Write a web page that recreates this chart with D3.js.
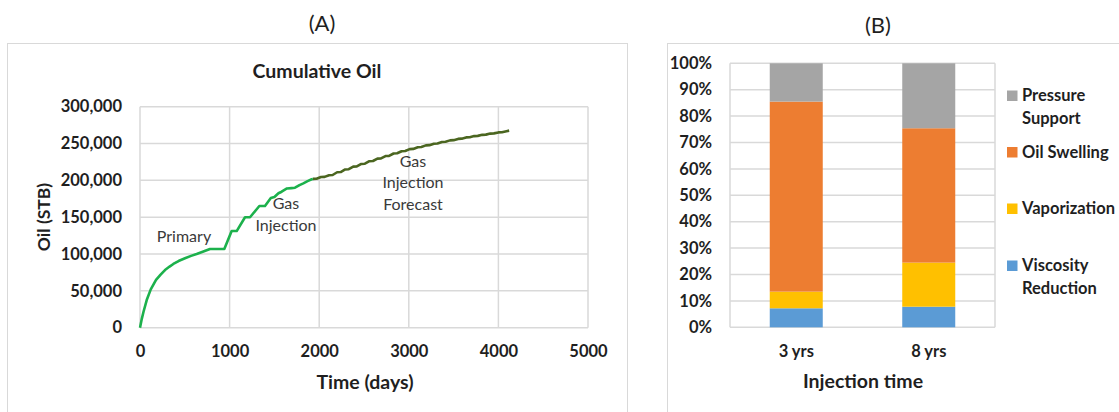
<!DOCTYPE html>
<html>
<head>
<meta charset="utf-8">
<script src="https://cdn.jsdelivr.net/npm/d3@7"></script>
<style>
  html, body { margin: 0; padding: 0; background: #fff; }
  svg { display: block; font-family: Lato, "Open Sans", sans-serif; }
</style>
</head>
<body>
<svg id="fig" width="1119" height="412"></svg>
<script>
// ---- Panel A: cumulative oil production (days, STB) ----
const primaryAndInjection = [
  [0, 0], [20, 12000], [40, 22000], [75, 37500], [120, 52000], [179, 64800],
  [230, 72000], [279, 78300], [330, 83000], [372, 86500], [430, 90500],
  [502, 94200], [570, 97500], [632, 100000], [700, 103000], [781, 106800],
  [941, 106800], [1023, 131200], [1079, 131200], [1172, 149900], [1228, 149900],
  [1332, 165200], [1395, 165200], [1460, 176000], [1500, 177500], [1545, 182500],
  [1581, 184600], [1640, 189000], [1690, 189500], [1730, 190000], [1780, 193500],
  [1823, 196000], [1870, 199000], [1916, 201500], [1930, 202000]
];
const injectionForecast = [
  [1930, 202000], [1970, 202200], [2020, 204500], [2060, 204700], [2110, 207000],
  [2150, 207300], [2200, 211000], [2240, 211300], [2290, 214800], [2330, 215100],
  [2380, 218600], [2420, 218900], [2470, 222300], [2510, 222600], [2560, 226000],
  [2600, 226300], [2650, 229500], [2690, 229800], [2740, 233000], [2780, 233300],
  [2830, 236500], [2870, 236800], [2920, 239600], [2960, 239900], [3010, 242400],
  [3050, 242700], [3100, 245000], [3140, 245300], [3190, 247500], [3230, 247800],
  [3280, 249800], [3320, 250100], [3370, 252100], [3410, 252400], [3460, 254300],
  [3500, 254600], [3550, 256300], [3590, 256600], [3640, 258300], [3680, 258600],
  [3730, 260100], [3770, 260400], [3820, 261800], [3860, 262100], [3910, 263500],
  [3950, 263800], [4000, 265100], [4040, 265400], [4090, 266800], [4120, 267500]
];
const timeTicks = [0, 1000, 2000, 3000, 4000, 5000];
const oilTicks = [0, 50000, 100000, 150000, 200000, 250000, 300000];

// ---- Panel B: recovery mechanism shares (%) ----
const categories = ["3 yrs", "8 yrs"];
const viscosityReduction = [7.2, 7.8];
const vaporization = [6.3, 16.7];
const oilSwelling = [72.0, 50.9];
const pressureSupport = [14.5, 24.6];
const percentTicks = [0, 10, 20, 30, 40, 50, 60, 70, 80, 90, 100];

const svg = d3.select("#fig");
svg.append("rect").attr("width", 1119).attr("height", 412).attr("fill", "#fff");

const gridColor = "#d9d9d9";
const labelColor = "#1f1f1f";
const noteColor = "#3a3a3a";

// panel frames
svg.append("rect").attr("x", 7.5).attr("y", 43.5).attr("width", 620).attr("height", 420)
  .attr("fill", "none").attr("stroke", gridColor);
svg.append("rect").attr("x", 667.5).attr("y", 43.5).attr("width", 500).attr("height", 420)
  .attr("fill", "none").attr("stroke", gridColor);

svg.append("text").attr("x", 322).attr("y", 31).attr("text-anchor", "middle")
  .attr("font-size", 22).attr("fill", labelColor).text("(A)");
svg.append("text").attr("x", 878).attr("y", 33).attr("text-anchor", "middle")
  .attr("font-size", 22).attr("fill", labelColor).text("(B)");

// ================= Panel A =================
const xA = d3.scaleLinear().domain([0, 5000]).range([140, 588]);
const yA = d3.scaleLinear().domain([0, 300000]).range([327.7, 106.7]);

const gA = svg.append("g");
gA.append("g").selectAll("line").data(timeTicks).join("line")
  .attr("x1", d => xA(d)).attr("x2", d => xA(d))
  .attr("y1", yA(0)).attr("y2", yA(300000))
  .attr("stroke", gridColor).attr("stroke-width", 1.5);
gA.append("g").selectAll("line").data(oilTicks).join("line")
  .attr("x1", xA(0)).attr("x2", xA(5000))
  .attr("y1", d => yA(d)).attr("y2", d => yA(d))
  .attr("stroke", gridColor).attr("stroke-width", 1.5);

const axA_y = gA.append("g").attr("transform", `translate(${xA(0)},0)`)
  .call(d3.axisLeft(yA).tickValues(oilTicks).tickFormat(d3.format(",")).tickSize(0).tickPadding(18));
const axA_x = gA.append("g").attr("transform", `translate(0,${yA(0)})`)
  .call(d3.axisBottom(xA).tickValues(timeTicks).tickFormat(d3.format("d")).tickSize(0).tickPadding(18));
[axA_y, axA_x].forEach(a => {
  a.select(".domain").remove();
  a.selectAll("text").attr("font-size", 16.5).attr("font-weight", 700)
    .attr("fill", labelColor).attr("font-family", "Lato, sans-serif");
});

const lineA = d3.line().x(d => xA(d[0])).y(d => yA(d[1]));
gA.append("path").datum(primaryAndInjection).attr("d", lineA)
  .attr("fill", "none").attr("stroke", "#1cb14c").attr("stroke-width", 2.6)
  .attr("stroke-linejoin", "round");
gA.append("path").datum(injectionForecast).attr("d", lineA)
  .attr("fill", "none").attr("stroke", "#4b6620").attr("stroke-width", 2.6)
  .attr("stroke-linejoin", "round");

svg.append("text").attr("x", 317).attr("y", 78).attr("text-anchor", "middle")
  .attr("font-size", 19.5).attr("font-weight", 700).attr("fill", labelColor).text("Cumulative Oil");
svg.append("text").attr("transform", "translate(50,217) rotate(-90)").attr("text-anchor", "middle")
  .attr("font-size", 17.5).attr("font-weight", 700).attr("fill", labelColor).text("Oil (STB)");
svg.append("text").attr("x", 365).attr("y", 389).attr("text-anchor", "middle")
  .attr("font-size", 19.5).attr("font-weight", 700).attr("fill", labelColor).text("Time (days)");

const notes = [
  { x: 184, y: 241.5, lines: ["Primary"] },
  { x: 286, y: 209, lines: ["Gas", "Injection"] },
  { x: 413, y: 166.5, lines: ["Gas", "Injection", "Forecast"] }
];
notes.forEach(n => {
  const t = svg.append("text").attr("text-anchor", "middle").attr("font-size", 16)
    .attr("fill", noteColor);
  n.lines.forEach((s, i) => t.append("tspan").attr("x", n.x).attr("y", n.y + i * 21.5).text(s));
});

// ================= Panel B =================
const xB = d3.scaleBand().domain(categories).range([730, 995]).paddingInner(0.6).paddingOuter(0.3);
const yB = d3.scaleLinear().domain([0, 100]).range([327.3, 63.3]);

const gB = svg.append("g");
gB.append("g").selectAll("line").data(percentTicks).join("line")
  .attr("x1", 730).attr("x2", 995)
  .attr("y1", d => yB(d)).attr("y2", d => yB(d))
  .attr("stroke", gridColor).attr("stroke-width", 1.5);
gB.append("line").attr("x1", 730).attr("x2", 730).attr("y1", yB(0)).attr("y2", yB(100))
  .attr("stroke", gridColor).attr("stroke-width", 1.5);
gB.append("line").attr("x1", 995).attr("x2", 995).attr("y1", yB(0)).attr("y2", yB(100))
  .attr("stroke", gridColor).attr("stroke-width", 1.5);

const mechanisms = [
  { key: "Viscosity Reduction", values: viscosityReduction, color: "#5b9bd5", label: ["Viscosity", "Reduction"] },
  { key: "Vaporization", values: vaporization, color: "#ffc000", label: ["Vaporization"] },
  { key: "Oil Swelling", values: oilSwelling, color: "#ed7d31", label: ["Oil Swelling"] },
  { key: "Pressure Support", values: pressureSupport, color: "#a5a5a5", label: ["Pressure", "Support"] }
];
const rows = categories.map((c, i) => {
  const r = { category: c };
  mechanisms.forEach(m => { r[m.key] = m.values[i]; });
  return r;
});
const stacked = d3.stack().keys(mechanisms.map(m => m.key))(rows);

gB.append("g").selectAll("g").data(stacked).join("g")
  .attr("fill", (d, i) => mechanisms[i].color)
  .selectAll("rect").data(d => d).join("rect")
  .attr("x", d => xB(d.data.category))
  .attr("width", xB.bandwidth())
  .attr("y", d => yB(d[1]))
  .attr("height", d => yB(d[0]) - yB(d[1]));

const axB_y = gB.append("g").attr("transform", "translate(730,0)")
  .call(d3.axisLeft(yB).tickValues(percentTicks).tickFormat(d => d + "%").tickSize(0).tickPadding(18));
const axB_x = gB.append("g").attr("transform", `translate(0,${yB(0)})`)
  .call(d3.axisBottom(xB).tickSize(0).tickPadding(18));
[axB_y, axB_x].forEach(a => {
  a.select(".domain").remove();
  a.selectAll("text").attr("font-size", 16.5).attr("font-weight", 700)
    .attr("fill", labelColor).attr("font-family", "Lato, sans-serif");
});

svg.append("text").attr("x", 863).attr("y", 388).attr("text-anchor", "middle")
  .attr("font-size", 19.5).attr("font-weight", 700).attr("fill", labelColor).text("Injection time");

// legend, top entry first
const legendRows = [
  { m: mechanisms[3], y: 101 },
  { m: mechanisms[2], y: 157.5 },
  { m: mechanisms[1], y: 214 },
  { m: mechanisms[0], y: 271 }
];
const leg = svg.append("g");
legendRows.forEach(r => {
  leg.append("rect").attr("x", 1007).attr("y", r.y - 10.5).attr("width", 10.5).attr("height", 10.5)
    .attr("fill", r.m.color);
  const t = leg.append("text").attr("font-size", 16.5).attr("font-weight", 700).attr("fill", labelColor);
  r.m.label.forEach((s, i) => t.append("tspan").attr("x", 1022).attr("y", r.y + i * 22.5).text(s));
});
</script>
</body>
</html>
